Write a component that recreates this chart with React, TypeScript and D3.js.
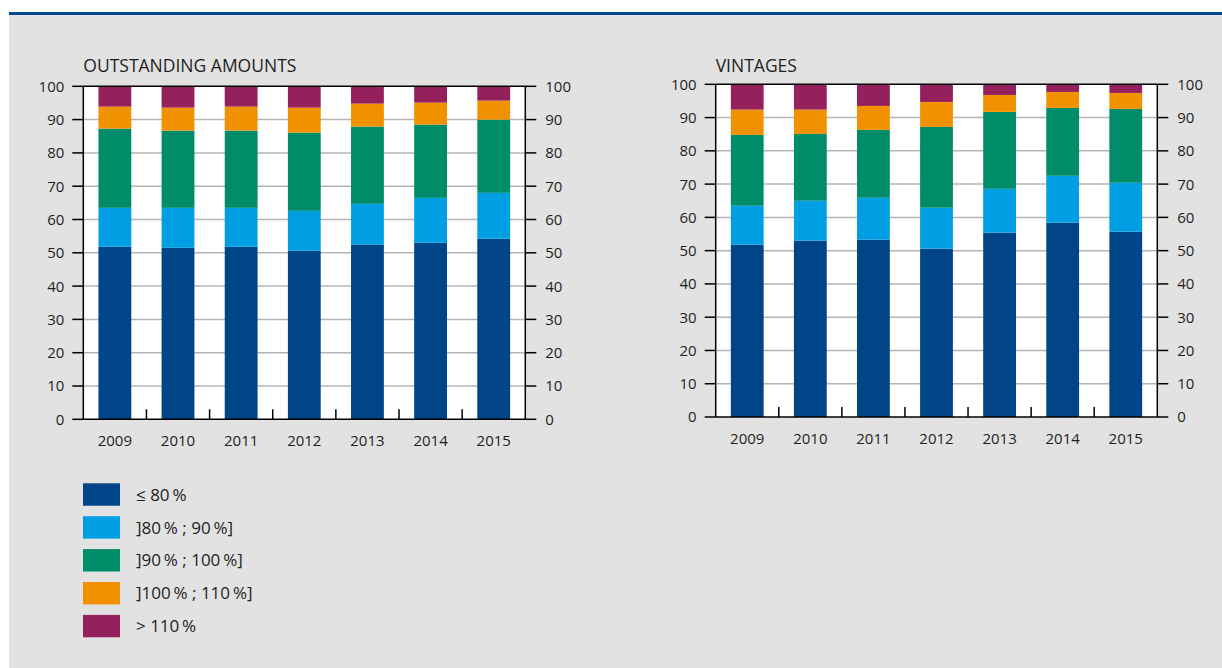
import React from "react";
import * as d3 from "d3";

const years = ["2009", "2010", "2011", "2012", "2013", "2014", "2015"];
const seriesNames = ["≤ 80\u2009%", "]80\u2009% ; 90\u2009%]", "]90\u2009% ; 100\u2009%]", "]100\u2009% ; 110\u2009%]", "> 110\u2009%"];
const seriesColors = ["#004587", "#009fe3", "#008c69", "#f29100", "#95215c"];
const yTicks = [0, 10, 20, 30, 40, 50, 60, 70, 80, 90, 100];

// OUTSTANDING AMOUNTS (segments in %, bottom to top)
const outLe80 = [51.8, 51.5, 51.8, 50.6, 52.4, 53.0, 54.2];
const out80_90 = [11.7, 12.0, 11.7, 12.0, 12.3, 13.5, 13.8];
const out90_100 = [23.8, 23.2, 23.2, 23.5, 23.2, 22.0, 22.0];
const out100_110 = [6.6, 6.9, 7.2, 7.5, 6.9, 6.6, 5.7];
const outGt110 = [6.1, 6.4, 6.1, 6.4, 5.2, 4.9, 4.3];

// VINTAGES
const vinLe80 = [51.8, 53.0, 53.3, 50.6, 55.4, 58.4, 55.7];
const vin80_90 = [11.7, 12.0, 12.6, 12.3, 13.2, 14.1, 14.7];
const vin90_100 = [21.3, 20.1, 20.4, 24.3, 23.1, 20.4, 22.2];
const vin100_110 = [7.6, 7.3, 7.2, 7.5, 5.1, 4.8, 4.8];
const vinGt110 = [7.6, 7.6, 6.5, 5.3, 3.2, 2.3, 2.6];

const FONT = "'Open Sans', 'Noto Sans', sans-serif";
const TEXT = "#1e1e1e";

type ChartProps = {
  title: string;
  series: number[][];
  x0: number;
  x1: number;
  yTop: number;
  yBottom: number;
};

function StackChart({ title, series, x0, x1, yTop, yBottom }: ChartProps) {
  const x = d3.scaleBand<string>().domain(years).range([x0, x1]).paddingInner(0.48).paddingOuter(0.24);
  const y = d3.scaleLinear().domain([0, 100]).range([yBottom, yTop]);
  const rows = years.map((yr, i) => {
    const o: any = { year: yr };
    series.forEach((s, k) => (o["s" + k] = s[i]));
    return o;
  });
  const keys = series.map((_, k) => "s" + k);
  const stacked = d3.stack<any>().keys(keys)(rows);
  const step = x.step();
  const sepTicks = d3.range(1, years.length).map((i) => x0 + i * step);

  return (
    <g>
      <text x={x0} y={72} fontFamily={FONT} fontSize={17.5} fill={TEXT}>
        {title}
      </text>
      <rect x={x0} y={yTop} width={x1 - x0} height={yBottom - yTop} fill="#ffffff" />
      {yTicks.filter((t) => t > 0 && t < 100).map((t) => (
        <line key={"g" + t} x1={x0} x2={x1} y1={y(t)} y2={y(t)} stroke="#b4b4b4" strokeWidth={1.5} />
      ))}
      {stacked.map((layer, k) => (
        <g key={"l" + k} fill={seriesColors[k]}>
          {layer.map((d, i) => (
            <rect
              key={i}
              x={x(years[i])}
              y={y(d[1])}
              width={x.bandwidth()}
              height={y(d[0]) - y(d[1])}
            />
          ))}
        </g>
      ))}
      <line x1={x0} x2={x1} y1={y(100)} y2={y(100)} stroke="#000" strokeWidth={1.5} />
      <line x1={x0} x2={x0} y1={yTop} y2={yBottom} stroke="#000" strokeWidth={1.5} />
      <line x1={x1} x2={x1} y1={yTop} y2={yBottom} stroke="#000" strokeWidth={1.5} />
      <line x1={x0} x2={x1} y1={yBottom} y2={yBottom} stroke="#000" strokeWidth={1.5} />
      {yTicks.map((t) => (
        <g key={"t" + t}>
          <line x1={x0 - 11} x2={x0} y1={y(t)} y2={y(t)} stroke="#000" strokeWidth={1.5} />
          <line x1={x1} x2={x1 + 11} y1={y(t)} y2={y(t)} stroke="#000" strokeWidth={1.5} />
          <text x={x0 - 19} y={y(t)} dy="0.36em" textAnchor="end" fontFamily={FONT} fontSize={15} fill={TEXT}>
            {t}
          </text>
          <text x={x1 + 20} y={y(t)} dy="0.36em" textAnchor="start" fontFamily={FONT} fontSize={15} fill={TEXT}>
            {t}
          </text>
        </g>
      ))}
      {sepTicks.map((sx, i) => (
        <line key={"s" + i} x1={sx} x2={sx} y1={yBottom - 10} y2={yBottom} stroke="#000" strokeWidth={1.5} />
      ))}
      {years.map((yr) => (
        <text
          key={"x" + yr}
          x={(x(yr) as number) + x.bandwidth() / 2}
          y={yBottom + 27}
          textAnchor="middle"
          fontFamily={FONT}
          fontSize={15}
          fill={TEXT}
        >
          {yr}
        </text>
      ))}
    </g>
  );
}

export default function App() {
  const outSeries = [outLe80, out80_90, out90_100, out100_110, outGt110];
  const vinSeries = [vinLe80, vin80_90, vin90_100, vin100_110, vinGt110];
  return (
    <div style={{ position: "absolute", left: 0, top: 0 }}>
      <svg width={1222} height={668} style={{ display: "block" }}>
        <rect x={0} y={0} width={1222} height={668} fill="#ffffff" />
        <rect x={9} y={15} width={1213} height={653} fill="#e2e2e2" />
        <rect x={9} y={12} width={1213} height={3} fill="#004489" />
        <StackChart title="OUTSTANDING AMOUNTS" series={outSeries} x0={83.3} x1={525.3} yTop={86.3} yBottom={419.3} />
        <StackChart title="VINTAGES" series={vinSeries} x0={715.7} x1={1157.3} yTop={84.3} yBottom={417} />
        {seriesNames.map((name, k) => (
          <g key={"lg" + k}>
            <rect x={83} y={483.3 + k * 32.9} width={37} height={22.4} fill={seriesColors[k]} />
            <text x={136} y={483.3 + k * 32.9 + 11.2} dy="0.36em" fontFamily={FONT} fontSize={17} fill={TEXT}>
              {name}
            </text>
          </g>
        ))}
      </svg>
    </div>
  );
}
